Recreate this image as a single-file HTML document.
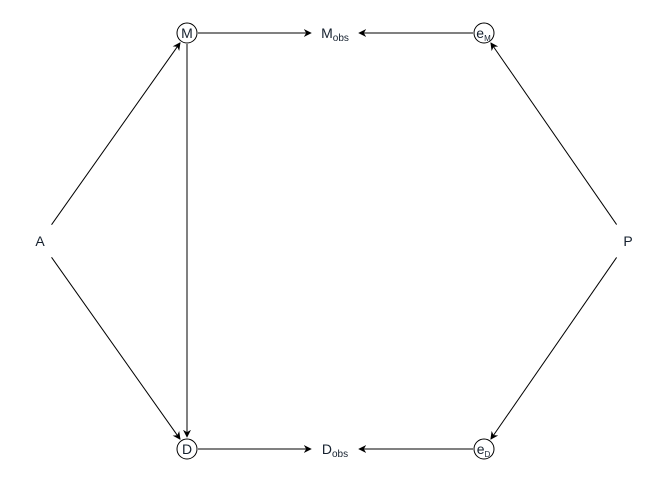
<!DOCTYPE html>
<html><head><meta charset="utf-8"><style>
html,body{margin:0;padding:0;background:#fff;}
svg{display:block;font-family:"Liberation Sans",Arial,sans-serif;}
</style></head><body>
<svg id="dag" width="672" height="480" viewBox="0 0 672 480" xmlns="http://www.w3.org/2000/svg">
<defs>
<marker id="ah" viewBox="0 0 10 10" refX="9" refY="5" markerWidth="8" markerHeight="8" markerUnits="userSpaceOnUse" orient="auto">
<path d="M0,0 L10,5 L0,10 L3,5 Z" fill="#000"/>
</marker>
</defs>
</svg>
<script>
const nodeIds = ["M","Mobs","eM","A","P","D","Dobs","eD"];
const nodeMain = ["M","M","e","A","P","D","D","e"];
const nodeSub = ["","obs","M","","","","obs","D"];
const nodeX = [187,335,484,40,628,187,335,484];
const nodeY = [33,33,33,241,241,449,449,449];
const nodeCircled = [true,false,true,false,false,true,false,true];
const edgeFrom = ["M","eM","M","A","A","P","P","D","eD"];
const edgeTo = ["Mobs","Mobs","D","M","D","eM","eD","Dobs","Dobs"];

const svg = document.getElementById('dag');
const NS = "http://www.w3.org/2000/svg";
function idx(id){return nodeIds.indexOf(id);}
function radius(i){ return nodeCircled[i] ? 11 : (nodeSub[i] ? 24 : 12); }

edgeFrom.forEach((f,k)=>{
  const a=idx(f), b=idx(edgeTo[k]);
  const x1=nodeX[a], y1=nodeY[a], x2=nodeX[b], y2=nodeY[b];
  const dx=x2-x1, dy=y2-y1, L=Math.hypot(dx,dy), ux=dx/L, uy=dy/L;
  const ra = Math.abs(uy)<0.1 ? radius(a) : (nodeCircled[a]?11:20);
  const rb = Math.abs(uy)<0.1 ? radius(b) : (nodeCircled[b]?12:20);
  const line=document.createElementNS(NS,'line');
  line.setAttribute('x1',x1+ux*ra); line.setAttribute('y1',y1+uy*ra);
  line.setAttribute('x2',x2-ux*rb); line.setAttribute('y2',y2-uy*rb);
  line.setAttribute('stroke','#000'); line.setAttribute('stroke-width','1');
  line.setAttribute('marker-end','url(#ah)');
  
  
  svg.appendChild(line);
});

nodeIds.forEach((id,i)=>{
  const g=document.createElementNS(NS,'g');
  
  
  if(nodeCircled[i]){
    const c=document.createElementNS(NS,'circle');
    c.setAttribute('cx',nodeX[i]); c.setAttribute('cy',nodeY[i]); c.setAttribute('r',10);
    c.setAttribute('fill','#fff'); c.setAttribute('stroke','#000'); c.setAttribute('stroke-width','1');
    g.appendChild(c);
  }
  const t=document.createElementNS(NS,'text');
  t.setAttribute('x',nodeX[i]); t.setAttribute('y',nodeY[i]+5);
  t.setAttribute('text-anchor','middle'); t.setAttribute('font-size','14'); t.setAttribute('fill','#15202e');
  t.textContent=nodeMain[i];
  if(nodeSub[i]){
    const s=document.createElementNS(NS,'tspan');
    s.setAttribute('font-size', nodeCircled[i]?'8':'10');
    s.setAttribute('dy','3');
    s.textContent=nodeSub[i];
    t.appendChild(s);
    if(nodeCircled[i]) t.setAttribute('x',nodeX[i]-0.5);
  }
  g.appendChild(t);
  svg.appendChild(g);
});
</script>
</body></html>
